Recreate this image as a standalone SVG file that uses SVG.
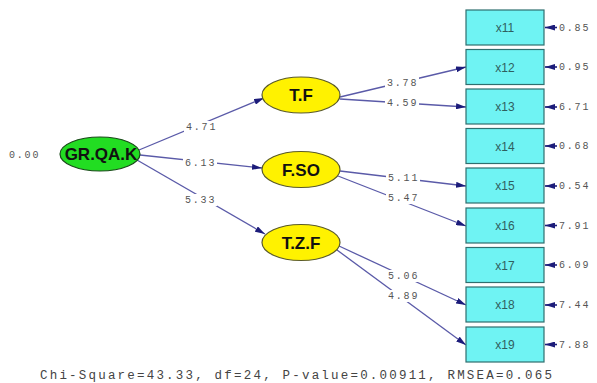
<svg xmlns="http://www.w3.org/2000/svg" width="597" height="383" viewBox="0 0 597 383">
<defs>
<marker id="ah" viewBox="0 0 10 6" refX="10" refY="3" markerWidth="10" markerHeight="6" markerUnits="userSpaceOnUse" orient="auto">
<path d="M0,0 L10,3 L0,6 Z" fill="#1c1c7a"/>
</marker>
<style>
.c{stroke:#5a5aa8;stroke-width:1.3;fill:none;marker-end:url(#ah)}
.e{stroke:#1c1c7a;stroke-width:1.6;fill:none;marker-end:url(#ah)}
.n{font-family:"Liberation Mono",monospace;font-size:10px;letter-spacing:1.8px;fill:#555}
.bg{fill:#fff}
.box{fill:#6ff3f3;stroke:#2f6f6f;stroke-width:1.2}
.bt{font-family:"Liberation Sans",Arial,sans-serif;font-size:12px;fill:#2f5f5f;text-anchor:middle}
.lat{fill:#fff200;stroke:#5a5a2a;stroke-width:1.2}
.lt{font-family:"Liberation Sans",Arial,sans-serif;font-size:17px;font-weight:bold;fill:#111;text-anchor:middle}
</style>
</defs>
<rect width="597" height="383" fill="#fff"/>
<g id="connectors">
<line class="c" x1="139" y1="150" x2="264" y2="98"/>
<line class="c" x1="140" y1="155" x2="262" y2="168"/>
<line class="c" x1="137" y1="160" x2="265" y2="234"/>
<line class="c" x1="340" y1="97" x2="466" y2="67"/>
<line class="c" x1="340" y1="99" x2="466" y2="107"/>
<line class="c" x1="340" y1="171" x2="466" y2="186"/>
<line class="c" x1="338" y1="176" x2="466" y2="226"/>
<line class="c" x1="339" y1="246" x2="466" y2="305"/>
<line class="c" x1="337" y1="250" x2="466" y2="345"/>
<line class="e" x1="557" y1="27.5" x2="545" y2="27.5"/>
<line class="e" x1="557" y1="67" x2="545" y2="67"/>
<line class="e" x1="557" y1="107" x2="545" y2="107"/>
<line class="e" x1="557" y1="146" x2="545" y2="146"/>
<line class="e" x1="557" y1="186" x2="545" y2="186"/>
<line class="e" x1="557" y1="225.5" x2="545" y2="225.5"/>
<line class="e" x1="557" y1="265" x2="545" y2="265"/>
<line class="e" x1="557" y1="305" x2="545" y2="305"/>
<line class="e" x1="557" y1="344.5" x2="545" y2="344.5"/>
<rect class="bg" x="184" y="121" width="34" height="12"/>
<rect class="bg" x="183" y="157" width="34" height="12"/>
<rect class="bg" x="183" y="194" width="34" height="12"/>
<rect class="bg" x="385" y="77" width="34" height="12"/>
<rect class="bg" x="385" y="97" width="34" height="12"/>
<rect class="bg" x="386" y="172" width="34" height="12"/>
<rect class="bg" x="386" y="192" width="34" height="12"/>
<rect class="bg" x="386" y="270" width="34" height="12"/>
<rect class="bg" x="386" y="290" width="34" height="12"/>
<text class="n" x="186" y="130">4.71</text>
<text class="n" x="185" y="166">6.13</text>
<text class="n" x="185" y="203">5.33</text>
<text class="n" x="387" y="86">3.78</text>
<text class="n" x="387" y="106">4.59</text>
<text class="n" x="388" y="181">5.11</text>
<text class="n" x="388" y="201">5.47</text>
<text class="n" x="388" y="279">5.06</text>
<text class="n" x="388" y="299">4.89</text>
<text class="n" x="559" y="31">0.85</text>
<text class="n" x="559" y="70">0.95</text>
<text class="n" x="559" y="110">6.71</text>
<text class="n" x="559" y="149">0.68</text>
<text class="n" x="559" y="189">0.54</text>
<text class="n" x="559" y="229">7.91</text>
<text class="n" x="559" y="268">6.09</text>
<text class="n" x="559" y="308">7.44</text>
<text class="n" x="559" y="348">7.88</text>
</g>
<g id="GRQAK">
<text class="n" x="9" y="158">0.00</text>
<ellipse cx="100" cy="154" rx="40" ry="17" fill="#22dd22" stroke="#1a4a1a" stroke-width="1.2"/>
<text class="lt" x="101" y="160">GR.QA.K</text>
</g>
<g id="TF"><ellipse class="lat" cx="301" cy="95" rx="39" ry="18"/><text class="lt" x="301" y="101">T.F</text></g>
<g id="FSO"><ellipse class="lat" cx="301" cy="169.5" rx="39" ry="18"/><text class="lt" x="301" y="175.5">F.SO</text></g>
<g id="TZF"><ellipse class="lat" cx="301" cy="242.5" rx="39" ry="18"/><text class="lt" x="301" y="248.5">T.Z.F</text></g>
<g id="x11"><rect class="box" x="466" y="10" width="78" height="35"/><text class="bt" x="505" y="32">x11</text></g>
<g id="x12"><rect class="box" x="466" y="49.5" width="78" height="35"/><text class="bt" x="505" y="71.5">x12</text></g>
<g id="x13"><rect class="box" x="466" y="89" width="78" height="35"/><text class="bt" x="505" y="111">x13</text></g>
<g id="x14"><rect class="box" x="466" y="128.5" width="78" height="35"/><text class="bt" x="505" y="150.5">x14</text></g>
<g id="x15"><rect class="box" x="466" y="168" width="78" height="35"/><text class="bt" x="505" y="190">x15</text></g>
<g id="x16"><rect class="box" x="466" y="208" width="78" height="35"/><text class="bt" x="505" y="230">x16</text></g>
<g id="x17"><rect class="box" x="466" y="247.5" width="78" height="35"/><text class="bt" x="505" y="269.5">x17</text></g>
<g id="x18"><rect class="box" x="466" y="287" width="78" height="35"/><text class="bt" x="505" y="309">x18</text></g>
<g id="x19"><rect class="box" x="466" y="327" width="78" height="35"/><text class="bt" x="505" y="349">x19</text></g>
<text x="40" y="379" font-family="Liberation Mono,monospace" font-size="12.5" letter-spacing="2.2" fill="#444">Chi-Square=43.33, df=24, P-value=0.00911, RMSEA=0.065</text>
</svg>
